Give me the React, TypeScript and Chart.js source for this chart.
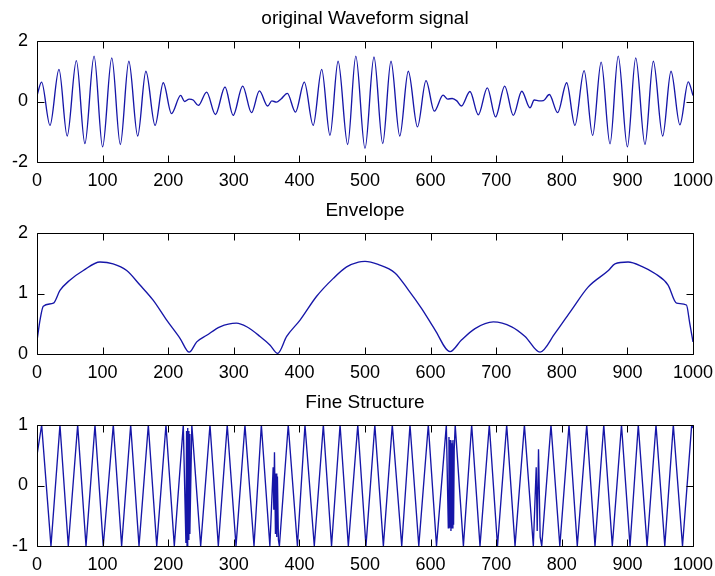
import React, { useEffect, useRef } from 'react';
import { Chart, registerables } from 'chart.js';

Chart.register(...registerables);

// ---------------- data ----------------
const TITLES = ['original Waveform signal', 'Envelope', 'Fine Structure'];

const X_TICKS = [0, 100, 200, 300, 400, 500, 600, 700, 800, 900, 1000];
const WAVE_Y_TICKS = [-2, 0, 2];
const ENV_Y_TICKS = [0, 1, 2];
const FINE_Y_TICKS = [-1, 0, 1];

// original waveform (read at turning points)
const WAVE_X = [
  0, 7, 19.8, 33.5, 46, 60, 73, 87, 100, 114, 127, 140, 153.5, 166, 180, 192.5, 205, 219, 225, 232, 238, 246,
  258.6, 272, 286.6, 299, 313.5, 327, 339, 351.6, 358, 365, 372, 381.6, 394, 407.5, 421, 434, 446.6, 459,
  473.6, 486, 500, 513.7, 527, 539.6, 553, 566, 580, 593, 605.6, 619, 626, 633, 640, 647, 660, 672.7, 686.5,
  699, 713, 726, 739, 751.5, 758, 765, 772, 781, 793.7, 807.4, 820, 834, 847, 860, 873.5, 886, 900, 912.7,
  926.8, 939.5, 953.8, 966.5, 980, 992.8, 1000,
];
const WAVE_Y = [
  0.2, 0.64, -0.79, 1.06, -1.14, 1.35, -1.39, 1.5, -1.5, 1.44, -1.42, 1.33, -1.14, 1.0, -0.79, 0.62, -0.4, 0.2, 0.0, 0.08, 0.05, -0.13,
  0.31, -0.43, 0.48, -0.46, 0.51, -0.37, 0.35, -0.15, 0.02, -0.02, 0.08, 0.27, -0.35, 0.64, -0.79, 1.06, -1.12, 1.33,
  -1.42, 1.5, -1.55, 1.47, -1.39, 1.33, -1.14, 1.0, -0.84, 0.69, -0.32, 0.21, 0.08, 0.1, 0.02, -0.15, 0.33, -0.44, 0.45,
  -0.51, 0.51, -0.46, 0.34, -0.21, 0.05, 0.02, 0.03, 0.23, -0.37, 0.62, -0.79, 1.02, -1.12, 1.3, -1.4, 1.5, -1.5, 1.44,
  -1.42, 1.33, -1.14, 1.0, -0.77, 0.65, 0.2,
];

// envelope
const ENV_X = [
  0, 4.6, 9.6, 25, 35, 50, 70.6, 96, 116, 136.7, 157, 177, 197.7, 218, 232, 243.5, 258.7, 279, 304, 319.7, 340,
  355, 367, 380.6, 401, 426, 451.7, 472, 490, 500, 520, 545.7, 566, 586.4, 606.7, 629.6, 647, 667.7, 695.6, 723.6,
  744, 766.8, 789.6, 815, 840.4, 871, 881, 901, 921.8, 942, 962, 975, 990, 995, 1000,
];
const ENV_Y = [
  0.22, 0.56, 0.79, 0.84, 1.05, 1.22, 1.38, 1.52, 1.49, 1.38, 1.14, 0.89, 0.56, 0.26, 0.03, 0.2, 0.31, 0.45, 0.51, 0.45, 0.29,
  0.15, 0.01, 0.29, 0.56, 0.95, 1.25, 1.44, 1.52, 1.53, 1.48, 1.34, 1.06, 0.75, 0.4, 0.04, 0.23, 0.42, 0.53, 0.45,
  0.29, 0.03, 0.34, 0.73, 1.11, 1.38, 1.49, 1.52, 1.45, 1.33, 1.14, 0.84, 0.81, 0.51, 0.2,
];

// fine structure
const FINE_X = [
  0, 7.1, 21.3, 35, 47.7, 62, 74.7, 88.4, 101, 116.3, 129, 142.8, 155.5, 169.7, 182.5, 196.6, 209.3, 223,
  227, 228, 228.7, 229.4, 230.1, 230.8, 231.5, 232.2, 233, 236, 249.5, 263.7, 276.4, 290, 303.4, 317, 330.8, 342, 355,
  360, 361, 362, 363.5, 364.5, 365.5, 366.5, 368, 369.5, 383, 397, 408.5, 422.7, 436.5, 449, 462, 474.6, 489, 501.5, 515, 528, 541.6, 556,
  568.6, 582, 596.5, 609, 624, 627, 628, 629, 630, 631, 632, 633, 634, 635, 636, 637.5, 650, 662.6, 675.3, 689.5, 702,
  716, 728.7, 743, 756.6, 761, 762.5, 764.5, 767, 769.4, 783.5, 797, 811, 823.6, 838, 850.6, 864, 877, 891, 904, 916.6,
  930, 943.6, 957, 970, 984, 998, 1000,
];
const FINE_Y = [
  0.5, 1, -1, 1, -1, 1, -1, 1, -1, 1, -1, 1, -1, 1, -1, 1, -1, 1,
  -0.95, 0.9, -1, 0.95, -0.95, 0.9, -0.9, 0.85, -0.8, 1, -1, 1, -1, 1, -1, 1, -1, 1, -1,
  0.3, -0.4, 0.55, -0.8, 0.2, -0.85, 0.15, -0.9, -1, 1, -1, 1, -1, 1, -1, 1, -1, 1, -1, 1, -1, 1, -1,
  1, -1, 1, -1, 1, -0.7, 0.8, -0.7, 0.75, -0.75, 0.7, -0.7, 0.75, -0.65, 0.6, 1, -1, 1, -1, 1, -1,
  1, -1, 1, -1, 0.3, -0.75, 0.6, -0.85, -1, 1, -1, 1, -1, 1, -1, 1, -1, 1, -1, 1,
  -1, 1, -1, 1, -1, 1, 0.95,
];

// ---------------- styling ----------------
const FONT = "'Liberation Sans', Arial, sans-serif";
const LINE_COLOR = 'rgb(22,22,168)';
const TICK_LEN = 7;

const framePlugin = {
  id: 'matlabFrame',
  afterDatasetsDraw(chart: any) {
    const { ctx, chartArea, scales } = chart;
    const xs = scales.x;
    const ys = scales.y;
    const L = Math.floor(chartArea.left) + 0.5;
    const R = Math.floor(chartArea.right) + 0.5;
    const T = Math.floor(chartArea.top) + 0.5;
    const B = Math.floor(chartArea.bottom) + 0.5;
    ctx.save();
    ctx.strokeStyle = '#000';
    ctx.lineWidth = 1;
    ctx.beginPath();
    ctx.rect(L, T, R - L, B - T);
    xs.ticks.forEach((t: any) => {
      const p = Math.round(xs.getPixelForValue(t.value)) + 0.5;
      ctx.moveTo(p, B);
      ctx.lineTo(p, B - TICK_LEN);
      ctx.moveTo(p, T);
      ctx.lineTo(p, T + TICK_LEN);
    });
    ys.ticks.forEach((t: any) => {
      const p = Math.round(ys.getPixelForValue(t.value)) + 0.5;
      ctx.moveTo(L, p);
      ctx.lineTo(L + TICK_LEN, p);
      ctx.moveTo(R, p);
      ctx.lineTo(R - TICK_LEN, p);
    });
    ctx.stroke();
    ctx.restore();
  },
};

type PanelProps = {
  title: string;
  xs: number[];
  ys: number[];
  yMin: number;
  yMax: number;
  yTicks: number[];
  smooth: boolean;
  top: number;
};

function Panel({ title, xs, ys, yMin, yMax, yTicks, smooth, top }: PanelProps) {
  const ref = useRef<HTMLCanvasElement>(null);
  useEffect(() => {
    if (!ref.current) return;
    const data = xs.map((x, i) => ({ x, y: ys[i] }));
    const chart = new Chart(ref.current, {
      type: 'line',
      data: {
        datasets: [
          {
            data,
            borderColor: LINE_COLOR,
            borderWidth: 1.35,
            pointRadius: 0,
            fill: false,
            tension: 0,
            cubicInterpolationMode: smooth ? 'monotone' : 'default',
          } as any,
        ],
      },
      options: {
        responsive: false,
        animation: false,
        events: [],
        layout: { padding: { left: 0, right: 22, top: 0, bottom: 0 } },
        plugins: {
          legend: { display: false },
          tooltip: { enabled: false },
          title: {
            display: true,
            text: title,
            fullSize: false,
            color: '#000',
            font: { family: FONT, size: 19, weight: 'normal' },
            padding: { top: 7, bottom: 11.2 },
          },
        },
        scales: {
          x: {
            type: 'linear',
            min: 0,
            max: 1000,
            grid: { display: false, drawTicks: false },
            border: { display: false },
            afterBuildTicks: (s: any) => {
              s.ticks = X_TICKS.map((v) => ({ value: v }));
            },
            afterFit: (s: any) => {
              s.height = 30;
              s.paddingLeft = 0;
              s.paddingRight = 0;
            },
            ticks: {
              autoSkip: false,
              maxRotation: 0,
              minRotation: 0,
              padding: 8,
              color: '#000',
              font: { family: FONT, size: 18 },
              callback: (v: any) => String(v),
            },
          },
          y: {
            type: 'linear',
            min: yMin,
            max: yMax,
            grid: { display: false, drawTicks: false },
            border: { display: false },
            afterBuildTicks: (s: any) => {
              s.ticks = yTicks.map((v) => ({ value: v }));
            },
            afterFit: (s: any) => {
              s.width = 37;
              s.paddingTop = 0;
              s.paddingBottom = 0;
            },
            ticks: {
              padding: 9,
              color: '#000',
              font: { family: FONT, size: 18 },
              callback: (v: any) => String(v),
            },
          },
        },
      } as any,
      plugins: [framePlugin],
    });
    return () => chart.destroy();
  }, []);
  return (
    <canvas
      ref={ref}
      width={715}
      height={192}
      style={{ position: 'absolute', left: 0, top, width: 715, height: 192, display: 'block' }}
    />
  );
}

export default function App() {
  return (
    <div style={{ position: 'absolute', left: 0, top: 0, width: 715, height: 576, background: '#fff' }}>
      <Panel title={TITLES[0]} xs={WAVE_X} ys={WAVE_Y} yMin={-2} yMax={2} yTicks={WAVE_Y_TICKS} smooth={true} top={0} />
      <Panel title={TITLES[1]} xs={ENV_X} ys={ENV_Y} yMin={0} yMax={2} yTicks={ENV_Y_TICKS} smooth={true} top={192} />
      <Panel title={TITLES[2]} xs={FINE_X} ys={FINE_Y} yMin={-1} yMax={1} yTicks={FINE_Y_TICKS} smooth={false} top={384} />
    </div>
  );
}
